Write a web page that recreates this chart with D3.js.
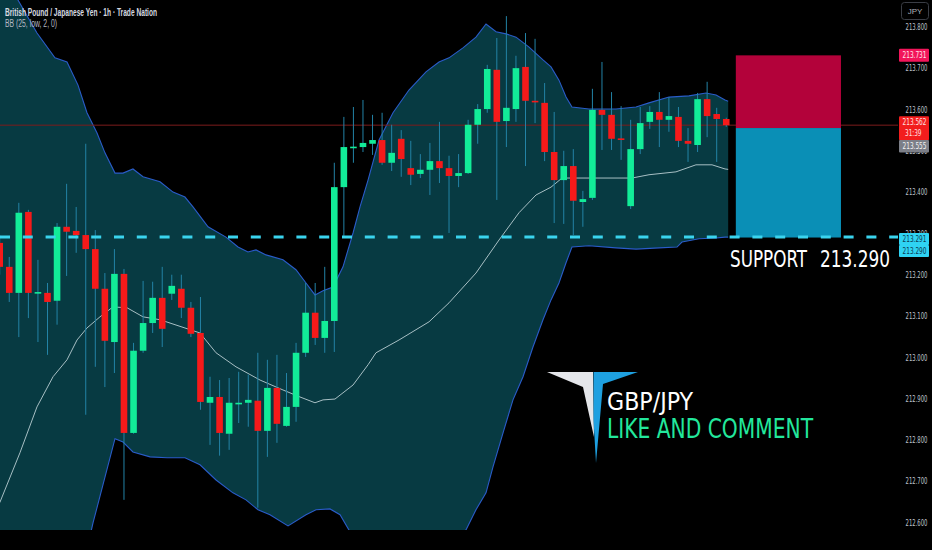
<!DOCTYPE html>
<html><head><meta charset="utf-8">
<script src="https://cdn.jsdelivr.net/npm/d3@7/dist/d3.min.js"></script>
<style>
html,body{margin:0;padding:0;background:#000;}
svg{display:block;}
</style></head><body>
<svg id="c" width="932" height="550"></svg>
<script>
// ---- Data (GBP/JPY 1h) ----
const opens=[213.277,213.219,213.156,213.352,213.156,213.156,213.137,213.316,213.306,213.296,213.262,213.166,213.037,213.202,212.817,213.016,213.083,213.144,213.154,213.166,213.120,213.059,212.890,212.904,212.815,212.888,212.890,212.895,212.822,212.926,212.834,212.880,213.011,213.108,213.047,213.088,213.412,213.509,213.509,213.517,213.526,213.471,213.529,213.458,213.444,213.454,213.475,213.458,213.439,213.446,213.563,213.601,213.696,213.572,213.601,213.703,213.621,213.616,213.497,213.429,213.463,213.376,213.386,213.599,213.587,213.530,213.366,213.504,213.570,213.594,213.575,213.582,213.524,213.514,213.625,213.589,213.577];
const highs=[213.296,213.243,213.374,213.357,213.236,213.180,213.325,213.420,213.364,213.517,213.308,213.204,213.262,213.214,213.035,213.185,213.183,213.219,213.200,213.200,213.134,213.146,212.953,212.945,212.950,212.965,212.958,213.011,212.994,213.006,212.962,213.035,213.180,213.180,213.219,213.471,213.582,213.606,213.623,213.587,213.592,213.563,213.550,213.524,213.492,213.519,213.570,213.488,213.492,213.575,213.613,213.708,213.773,213.826,213.730,213.785,213.771,213.664,213.594,213.500,213.504,213.403,213.650,213.715,213.642,213.608,213.575,213.606,213.608,213.642,213.630,213.606,213.555,213.640,213.667,213.604,213.580];
const lows=[213.200,213.134,213.049,213.095,213.037,213.006,213.079,213.197,213.253,212.861,212.977,212.928,212.962,212.655,212.815,213.011,213.059,213.025,213.139,213.095,213.049,212.873,212.788,212.762,212.776,212.841,212.832,212.636,212.759,212.793,212.832,212.844,213.001,213.030,213.011,213.013,213.294,213.471,213.497,213.490,213.466,213.451,213.437,213.417,213.434,213.393,213.422,213.301,213.412,213.444,213.517,213.592,213.381,213.509,213.570,213.463,213.567,213.475,213.325,213.323,213.296,213.316,213.381,213.502,213.502,213.478,213.359,213.492,213.553,213.509,213.546,213.509,213.473,213.497,213.533,213.473,213.558];
const closes=[213.219,213.156,213.350,213.156,213.158,213.134,213.316,213.304,213.296,213.262,213.166,213.040,213.202,212.817,213.016,213.083,213.144,213.069,213.173,213.120,213.057,212.892,212.904,212.817,212.890,212.890,212.897,212.822,212.926,212.839,212.880,213.011,213.108,213.047,213.088,213.412,213.509,213.510,213.519,213.526,213.471,213.495,213.480,213.442,213.454,213.475,213.458,213.439,213.446,213.563,213.601,213.698,213.570,213.604,213.700,213.621,213.619,213.497,213.429,213.463,213.379,213.383,213.599,213.587,213.529,213.528,213.504,213.567,213.594,213.575,213.584,213.524,213.517,213.625,213.584,213.577,213.562];

// Bollinger Bands (25, low, 2): [bar index, price]
const bbUpper=[[0,213.938],[1.91,213.865],[3.90,213.785],[5.78,213.725],[7.04,213.715],[8.19,213.659],[9.13,213.592],[10.18,213.543],[11.01,213.495],[12.06,213.446],[12.90,213.446],[13.94,213.456],[14.99,213.437],[16.77,213.425],[18.13,213.400],[19.38,213.388],[20.22,213.364],[21.79,213.316],[23.67,213.291],[24.93,213.267],[25.97,213.255],[26.81,213.260],[27.86,213.248],[29.63,213.236],[30.99,213.212],[32.04,213.180],[32.98,213.151],[33.82,213.161],[34.86,213.170],[35.91,213.219],[36.96,213.301],[37.69,213.364],[38.53,213.429],[39.68,213.526],[41.14,213.592],[42.81,213.647],[44.59,213.691],[45.95,213.715],[47.00,213.725],[48.46,213.749],[49.82,213.775],[50.87,213.807],[51.92,213.788],[52.96,213.783],[54.01,213.775],[55.37,213.751],[56.83,213.720],[57.67,213.703],[58.50,213.671],[59.24,213.630],[59.86,213.606],[61.64,213.601],[64.47,213.601],[66.56,213.606],[67.92,213.616],[70.01,213.630],[72.10,213.633],[73.88,213.640],[74.93,213.635],[75.87,213.623],[76.2,213.620]];
const bbBasis=[[0,212.648],[2.12,212.769],[3.90,212.880],[5.58,212.953],[7.04,212.994],[8.09,213.042],[9.13,213.071],[10.49,213.098],[11.85,213.122],[13.32,213.120],[14.99,213.098],[16.77,213.091],[19.38,213.071],[20.95,213.059],[22.63,213.011],[24.72,212.977],[27.23,212.945],[29.63,212.921],[31.41,212.904],[32.98,212.890],[33.82,212.897],[35.07,212.899],[36.96,212.933],[38.53,212.982],[39.36,213.011],[41.77,213.042],[44.91,213.086],[47.00,213.132],[49.82,213.204],[52.23,213.284],[54.32,213.350],[56.10,213.393],[57.67,213.412],[58.82,213.434],[60.91,213.434],[66.14,213.434],[67.92,213.442],[70.74,213.449],[72.83,213.466],[74.51,213.466],[75.87,213.456],[76.2,213.455]];
const bbLower=[[0,211.358],[1.91,211.663],[5.78,212.205],[8.19,212.440],[9.76,212.599],[12.06,212.803],[12.90,212.795],[13.94,212.771],[15.72,212.759],[17.50,212.757],[19.38,212.757],[20.95,212.740],[22.63,212.703],[24.40,212.672],[25.76,212.655],[27.02,212.631],[28.27,212.619],[30.16,212.592],[32.04,212.619],[33.09,212.631],[34.55,212.633],[35.60,212.619],[36.96,212.565],[38.53,212.534],[41.14,212.469],[44.59,212.471],[47.00,212.539],[48.77,212.582],[49.82,212.631],[50.87,212.672],[51.60,212.735],[52.65,212.817],[53.69,212.897],[54.74,212.953],[55.78,213.025],[56.83,213.091],[57.67,213.139],[58.50,213.180],[59.24,213.229],[59.86,213.267],[61.64,213.270],[64.47,213.265],[66.56,213.262],[68.97,213.265],[70.85,213.267],[71.37,213.279],[73.15,213.287],[74.93,213.289],[75.87,213.291],[76.2,213.291]];

const timeLabels=["06:00","12:00","18:00","20","06:00","12:00","18:00","21","06:00","12:00","18:00","22","06:00","12:00","16:00","24","01:00"];
const timeIndex=[3,9,15,21,27,33,39,45,51,57,63,69,75,81,85,90,93.4];
const dayLabels=["20","21","22","24"];
const priceTicks=[213.8,213.7,213.6,213.5,213.4,213.3,213.2,213.1,213.0,212.9,212.8,212.7,212.6];

const lastPrice=213.562, countdown="31:39";
const positionStop=213.731, positionEntry=213.555, positionTarget=213.290;
const positionStartIdx=77, positionEndIdx=88;
const supportLevel=213.291, supportLabelValue=213.290;
const titleText="British Pound / Japanese Yen · 1h · Trade Nation";
const indicatorText="BB (25, low, 2, 0)";
const currency="JPY";
const logoLine1="GBP/JPY", logoLine2="LIKE AND COMMENT";

// ---- Drawing ----
const W=932,H=550,plotW=898,plotH=530;
const svg=d3.select('#c');
svg.append('rect').attr('width',W).attr('height',H).attr('fill','#000');
const x=d3.scaleLinear().domain([0,94]).range([-0.3,-0.3+9.56*94]);
const y=d3.scaleLinear().domain([212.582,213.865]).range([530,0]);

const defs=svg.append('defs');
defs.append('clipPath').attr('id','plot').append('rect').attr('x',0).attr('y',0).attr('width',plotW).attr('height',plotH);
defs.append('clipPath').attr('id','taxis').append('rect').attr('x',0).attr('y',plotH).attr('width',plotW).attr('height',H-plotH);

const g=svg.append('g').attr('clip-path','url(#plot)');

// band fill
const ln=d3.line().x(d=>x(d[0])).y(d=>y(d[1]));
const upPath=ln(bbUpper);
const loPath=ln(bbLower.slice().reverse()).replace(/^M/,'L');
g.append('path').attr('d',upPath+loPath+'Z').attr('fill','#073a42');
g.append('path').attr('d',ln(bbUpper)).attr('fill','none').attr('stroke','#2a5cc9').attr('stroke-width',1.1);
g.append('path').attr('d',ln(bbLower)).attr('fill','none').attr('stroke','#2a5cc9').attr('stroke-width',1.1);
g.append('path').attr('d',ln(bbBasis)).attr('fill','none').attr('stroke','#a7bfc4').attr('stroke-width',1);

// last price line
g.append('line').attr('x1',0).attr('x2',plotW).attr('y1',y(lastPrice)).attr('y2',y(lastPrice))
 .attr('stroke','#7d1c1c').attr('stroke-width',1);

// candles
const idx=d3.range(opens.length);
const bw=6.6;
g.append('g').selectAll('line').data(idx).join('line')
 .attr('x1',i=>x(i)).attr('x2',i=>x(i)).attr('y1',i=>y(highs[i])).attr('y2',i=>y(lows[i]))
 .attr('stroke','#2383a6').attr('stroke-width',1);
g.append('g').selectAll('rect').data(idx).join('rect')
 .attr('x',i=>x(i)-bw/2).attr('width',bw)
 .attr('y',i=>y(Math.max(opens[i],closes[i])))
 .attr('height',i=>Math.max(1.6,Math.abs(y(opens[i])-y(closes[i]))))
 .attr('fill',i=>closes[i]>=opens[i]?'#12ec98':'#f51a1a');

// position box
g.append('rect').attr('x',x(positionStartIdx)).attr('width',x(positionEndIdx)-x(positionStartIdx))
 .attr('y',y(positionStop)).attr('height',y(positionEntry)-y(positionStop)).attr('fill','#b3023a');
g.append('rect').attr('x',x(positionStartIdx)).attr('width',x(positionEndIdx)-x(positionStartIdx))
 .attr('y',y(positionEntry)).attr('height',y(positionTarget)-y(positionEntry)).attr('fill','#0a8fb6');

// support dashed line
g.append('line').attr('x1',0).attr('x2',plotW).attr('y1',y(supportLevel)).attr('y2',y(supportLevel))
 .attr('stroke','#3ad4ee').attr('stroke-width',3).attr('stroke-dasharray','10,12.8');

// support label
const narrow="'Liberation Sans Narrow','DejaVu Sans Condensed','Liberation Sans',sans-serif";
svg.append('text').attr('x',730).attr('y',267).attr('font-family',narrow).attr('font-size',23.5)
 .attr('fill','#ffffff').attr('textLength',77).attr('lengthAdjust','spacingAndGlyphs').text('SUPPORT');
svg.append('text').attr('x',890).attr('y',267).attr('text-anchor','end').attr('font-family',narrow).attr('font-size',23.5)
 .attr('fill','#ffffff').attr('textLength',70).attr('lengthAdjust','spacingAndGlyphs').text(d3.format('.3f')(supportLabelValue));

// logo
const logo=svg.append('g');
logo.append('polygon').attr('points','547,372 593,372 594,437 583,387').attr('fill','#e4e6ea');
logo.append('polygon').attr('points','593.5,372 638,372 603,384 596,463 593.5,420').attr('fill','#1ea0e0');
logo.append('text').attr('x',607).attr('y',410).attr('font-family',narrow).attr('font-size',25)
 .attr('fill','#ffffff').attr('textLength',86).attr('lengthAdjust','spacingAndGlyphs').text(logoLine1);
logo.append('text').attr('x',607).attr('y',438).attr('font-family',narrow).attr('font-size',26)
 .attr('fill','#22e79c').attr('textLength',206).attr('lengthAdjust','spacingAndGlyphs').text(logoLine2);

// title
const uiFont="'Liberation Sans','Roboto',sans-serif";
svg.append('text').attr('x',5).attr('y',15.5).attr('font-family',uiFont).attr('font-size',10).attr('font-weight','bold')
 .attr('fill','#d7dae0').attr('textLength',152).attr('lengthAdjust','spacingAndGlyphs').text(titleText);
svg.append('text').attr('x',5).attr('y',27).attr('font-family',uiFont).attr('font-size',10)
 .attr('fill','#b5b9c2').attr('textLength',52).attr('lengthAdjust','spacingAndGlyphs').text(indicatorText);

// price axis
const ya=svg.append('g').attr('transform','translate(927.5,0)')
 .call(d3.axisRight(y).tickValues(priceTicks).tickFormat(d3.format('.3f')).tickSize(0).tickPadding(0));
ya.select('.domain').remove();
ya.selectAll('text').attr('text-anchor','end').attr('font-family',narrow).attr('font-size',8.5).attr('fill','#bfc3cb')
 .attr('textLength',22).attr('lengthAdjust','spacingAndGlyphs');

// badges
function badge(cy,h,fill,txt,tcol,sub){
  const b=svg.append('g');
  b.append('rect').attr('x',899).attr('y',cy-h/2).attr('width',30).attr('height',h).attr('fill',fill).attr('rx',1);
  b.append('text').attr('x',926.5).attr('text-anchor','end').attr('y',sub?cy-h/2+9.2:cy+3).attr('font-family',narrow).attr('font-size',8.5)
   .attr('fill',tcol).attr('textLength',24).attr('lengthAdjust','spacingAndGlyphs').text(txt);
  if(sub) b.append('text').attr('x',905).attr('y',cy-h/2+19.5).attr('font-family',narrow).attr('font-size',8.5)
   .attr('fill',tcol).attr('textLength',16.5).attr('lengthAdjust','spacingAndGlyphs').text(sub);
}
const f3=d3.format('.3f');
badge(y(positionStop),13,'#f2155a',f3(positionStop),'#ffe3ea');
badge(y(lastPrice)+3,24,'#f21d1d',f3(lastPrice),'#ffe0e0',countdown);
badge(y(lastPrice)+21,12.5,'#7c7f88',f3(positionEntry),'#f2f2f2');
badge(y(supportLevel)+2,12,'#2fd3f3',f3(supportLevel),'#0c3b52');
badge(y(supportLevel)+14,12,'#2fd3f3',f3(supportLabelValue),'#0c3b52');

// currency box
svg.append('rect').attr('x',901.5).attr('y',2.5).attr('width',27).attr('height',17).attr('rx',3)
 .attr('fill','#000').attr('stroke','#3a3d45').attr('stroke-width',1);
svg.append('text').attr('x',915).attr('y',14).attr('text-anchor','middle').attr('font-family',uiFont).attr('font-size',8)
 .attr('fill','#aeb2ba').text(currency);

// time axis
const xa=svg.append('g').attr('transform','translate(0,'+(plotH+7)+')').attr('clip-path','url(#taxis)');
xa.append('g').call(d3.axisBottom(x).tickValues(timeIndex).tickFormat((d,i)=>timeLabels[i]).tickSize(0).tickPadding(0))
 .call(s=>s.select('.domain').remove());
xa.selectAll('text').attr('dy','0.71em').attr('y',0)
 .attr('font-family',uiFont)
 .each(function(d,i){
   const t=d3.select(this), lab=timeLabels[i], isDay=dayLabels.includes(lab);
   t.attr('font-size',isDay?9:8.5).attr('font-weight',isDay?'bold':'normal')
    .attr('fill',isDay?'#ffffff':'#b8bcc4')
    .attr('textLength',isDay?7:15.5).attr('lengthAdjust','spacingAndGlyphs');
 });
</script>
</body></html>
